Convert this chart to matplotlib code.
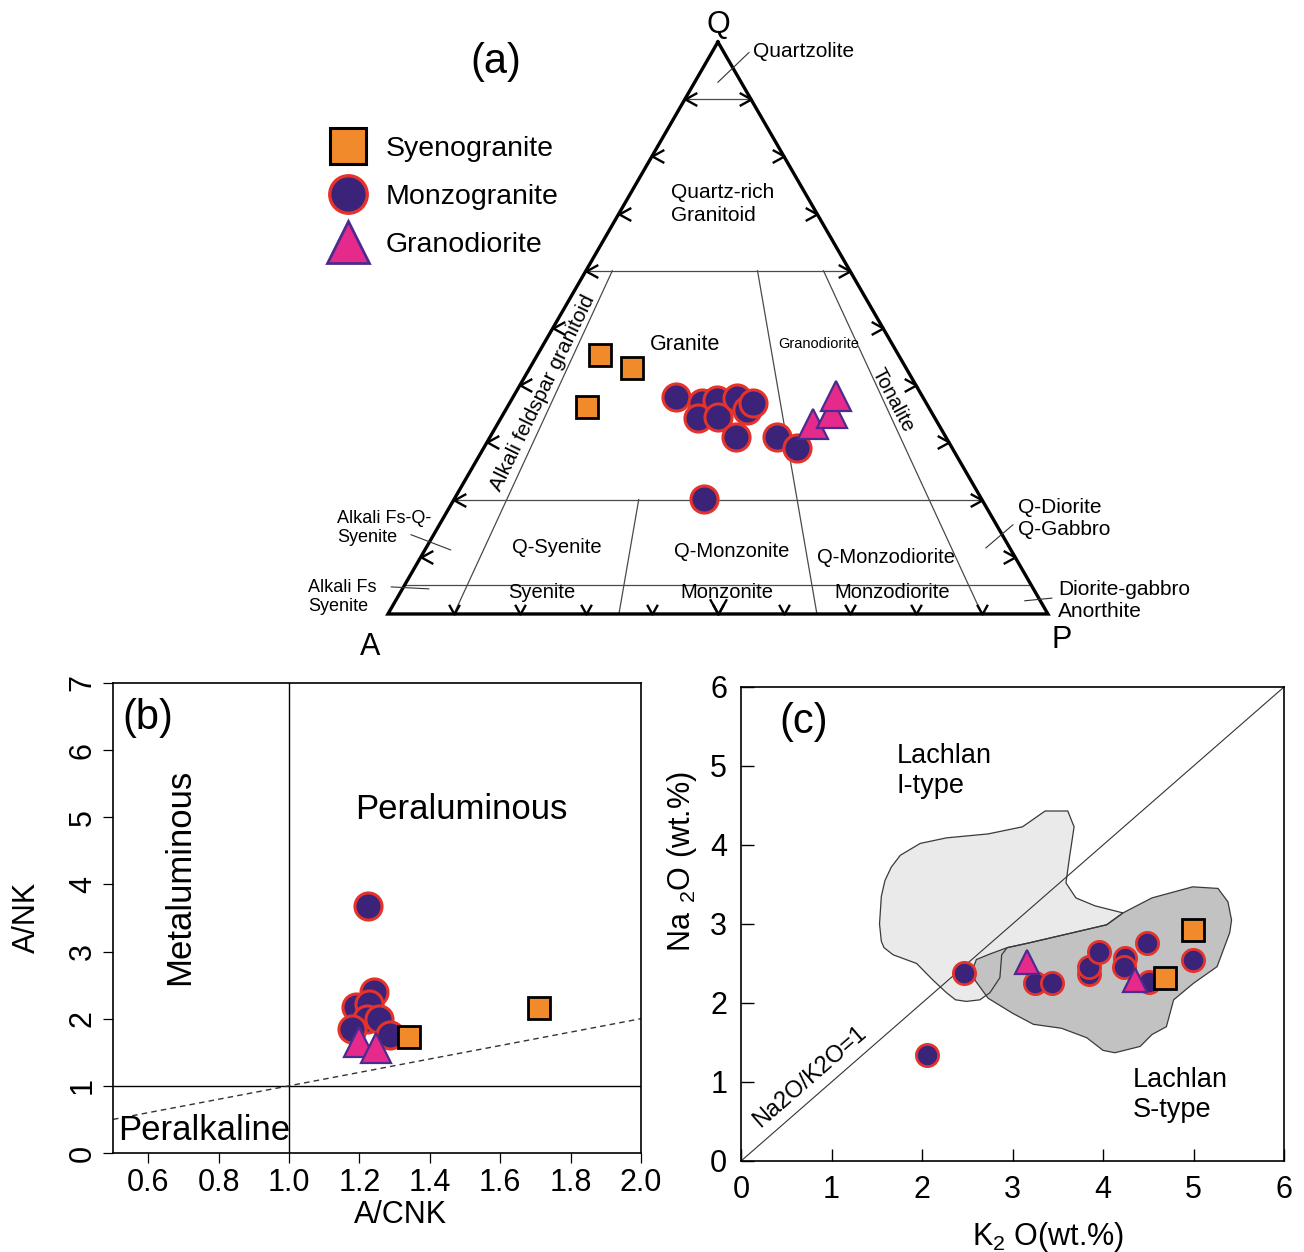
import numpy as np
import matplotlib.pyplot as plt
from matplotlib.path import Path
from matplotlib.lines import Line2D

plt.rcParams['font.family'] = ['Liberation Sans', 'DejaVu Sans']
plt.rcParams['mathtext.fontset'] = 'custom'
plt.rcParams['mathtext.rm'] = 'Liberation Sans'
plt.rcParams['mathtext.default'] = 'regular'

# (a) QAP modal compositions, %
syeno_q = [45.3, 43.0, 36.2]
syeno_a = [45.2, 41.5, 51.8]
syeno_p = [9.5, 15.5, 12.0]

monzo_q = [38.0, 36.9, 34.3, 37.4, 34.5, 37.8, 35.7, 36.9, 31.0, 31.0, 29.0, 20.1]
monzo_a = [37.4, 34.0, 35.9, 31.4, 32.8, 28.2, 27.8, 26.2, 31.8, 25.6, 23.5, 42.0]
monzo_p = [24.6, 29.1, 29.8, 31.2, 32.7, 34.0, 36.5, 36.9, 37.2, 43.4, 47.5, 37.9]

grano_q = [33.2, 35.2, 38.1]
grano_a = [19.0, 15.1, 13.1]
grano_p = [47.8, 49.7, 48.8]

# (b) A/CNK vs A/NK
syeno_acnk = [1.34, 1.71]
syeno_ank = [1.72, 2.16]
monzo_acnk = [1.224, 1.240, 1.190, 1.227, 1.221, 1.256, 1.178, 1.286]
monzo_ank = [3.68, 2.40, 2.18, 2.22, 2.00, 2.00, 1.85, 1.76]
grano_acnk = [1.198, 1.246]
grano_ank = [1.66, 1.56]

# (c) K2O vs Na2O, wt.%
syeno_k2o = [4.99, 4.69]
syeno_na2o = [2.93, 2.32]
monzo_k2o = [2.46, 2.05, 3.25, 3.44, 3.84, 3.84, 3.95, 4.24, 4.23, 4.49, 4.51, 4.99]
monzo_na2o = [2.38, 1.34, 2.25, 2.25, 2.37, 2.45, 2.64, 2.57, 2.45, 2.76, 2.26, 2.54]
grano_k2o = [3.16, 4.35]
grano_na2o = [2.52, 2.29]

# Lachlan fold belt granite fields
itype_k2o = [1.55, 1.53, 1.55, 1.59, 1.66, 1.76, 1.98, 2.27, 2.73, 3.11, 3.36, 3.61,
             3.68, 3.63, 3.59, 3.70, 3.91, 4.22, 4.04, 3.63, 3.18, 2.94, 2.88, 2.86,
             2.75, 2.64, 2.49, 2.37, 2.27, 2.12, 1.94, 1.68, 1.58]
itype_na2o = [2.78, 3.00, 3.35, 3.55, 3.72, 3.87, 4.02, 4.09, 4.14, 4.23, 4.43, 4.43,
              4.23, 3.85, 3.52, 3.33, 3.23, 3.14, 2.99, 2.88, 2.76, 2.70, 2.61, 2.32,
              2.13, 2.04, 2.02, 2.04, 2.13, 2.29, 2.50, 2.61, 2.70]
stype_k2o = [2.55, 2.60, 2.75, 2.94, 3.18, 3.63, 4.04, 4.22, 4.54, 4.99, 5.27, 5.38,
             5.42, 5.40, 5.26, 5.00, 4.78, 4.70, 4.54, 4.41, 4.13, 4.00, 3.82, 3.54,
             3.23, 3.00, 2.73, 2.59]
stype_na2o = [2.40, 2.55, 2.62, 2.70, 2.76, 2.88, 2.99, 3.14, 3.33, 3.47, 3.45, 3.28,
              3.05, 2.89, 2.46, 2.25, 2.04, 1.70, 1.60, 1.45, 1.37, 1.40, 1.56, 1.68,
              1.73, 1.87, 2.06, 2.28]

labels = ['Syenogranite', 'Monzogranite', 'Granodiorite']
orange = '#F08A2A'
indigo = '#3A2378'
red = '#E5322B'
pink = '#E62A8C'
violet = '#4B2C8E'

sq_style = dict(marker='s', mfc=orange, mec='black', ls='none')
ci_style = dict(marker='o', mfc=indigo, mec=red, ls='none')
tr_style = dict(marker='^', mfc=pink, mec=violet, ls='none')


def tern(q, a, p):
    q, a, p = np.asarray(q, float), np.asarray(a, float), np.asarray(p, float)
    s = q + a + p
    return (p + q / 2) / s, q / s * np.sqrt(3) / 2


fig = plt.figure(figsize=(13.04, 12.52), dpi=100)

# ---------------- (a) QAPF diagram ----------------
ax = fig.add_axes([0.2975, 0.5096, 0.5061, 0.4569])
ax.set_xlim(0, 1)
ax.set_ylim(0, np.sqrt(3) / 2)
ax.axis('off')

field = dict(color='#4a4a4a', lw=0.9, clip_on=False, zorder=1)
# horizontal Q levels
for qv in [90, 60, 20, 5]:
    x, y = tern([qv, qv], [100 - qv, 0], [0, 100 - qv])
    ax.plot(x, y, **field)
# P/(A+P) ratio lines
for r, qtop in [(0.10, 60), (0.35, 20), (0.65, 60), (0.90, 60)]:
    x, y = tern([qtop, 0], [(100 - qtop) * (1 - r), 100 * (1 - r)],
                [(100 - qtop) * r, 100 * r])
    ax.plot(x, y, **field)

x, y = tern([100, 0, 0, 100], [0, 100, 0, 0], [0, 0, 100, 0])
ax.plot(x, y, color='black', lw=2.4, solid_joinstyle='miter', clip_on=False, zorder=2)

# arrow ticks along the edges
codes = [Path.MOVETO, Path.LINETO, Path.LINETO]
chev_l = Path([(1, 0.55), (0, 0), (1, -0.55)], codes)
chev_r = Path([(-1, 0.55), (0, 0), (-1, -0.55)], codes)
chev_d = Path([(-0.55, 1), (0, 0), (0.55, 1)], codes)
steps = np.arange(10, 100, 10)
chev = dict(ls='none', mfc='none', mec='black', mew=1.7, clip_on=False, zorder=3)
x, y = tern(steps, 100 - steps, 0 * steps)
ax.plot(x, y, marker=chev_l, ms=17, **chev)
x, y = tern(steps, 0 * steps, 100 - steps)
ax.plot(x, y, marker=chev_r, ms=17, **chev)
x, y = tern(0 * steps, 100 - steps, steps)
ax.plot(x, y, marker=chev_d, ms=14, **chev)
x, y = tern([0], [50], [50])
ax.plot(x, y, marker=chev_d, ms=22, **chev)

# leader lines
lead = dict(color='#333333', lw=0.8, clip_on=False)
ax.plot([0.500, 0.547], [0.805, 0.850], **lead)
ax.plot([0.035, 0.095], [0.120, 0.097], **lead)
ax.plot([0.005, 0.062], [0.041, 0.038], **lead)
ax.plot([0.906, 0.947], [0.100, 0.135], **lead)
ax.plot([0.965, 1.006], [0.020, 0.024], **lead)

fs = 14.5
ax.text(0.5, 0.892, 'Q', fontsize=22, ha='center', va='center')
ax.text(-0.027, -0.050, 'A', fontsize=22, ha='center', va='center')
ax.text(1.021, -0.039, 'P', fontsize=22, ha='center', va='center')
ax.text(0.164, 0.836, '(a)', fontsize=30, ha='center', va='center')
ax.text(0.553, 0.852, 'Quartzolite', fontsize=15, ha='left', va='center')
ax.text(0.429, 0.621, 'Quartz-rich\nGranitoid', fontsize=15, ha='left', va='center',
        linespacing=1.3)
ax.text(0.397, 0.408, 'Granite', fontsize=15.5, ha='left', va='center')
ax.text(0.652, 0.408, 'Granodiorite', fontsize=10.5, ha='center', va='center')
ax.text(0.765, 0.324, 'Tonalite', fontsize=fs, ha='center', va='center', rotation=-62)
ax.text(0.234, 0.334, 'Alkali feldspar granitoid', fontsize=15, ha='center',
        va='center', rotation=64)
ax.text(-0.077, 0.130, 'Alkali Fs-Q-\nSyenite', fontsize=13, ha='left', va='center',
        linespacing=1.2)
ax.text(-0.121, 0.026, 'Alkali Fs\nSyenite', fontsize=13, ha='left', va='center',
        linespacing=1.2)
ax.text(0.256, 0.100, 'Q-Syenite', fontsize=fs, ha='center', va='center')
ax.text(0.521, 0.095, 'Q-Monzonite', fontsize=fs, ha='center', va='center')
ax.text(0.755, 0.086, 'Q-Monzodiorite', fontsize=fs, ha='center', va='center')
ax.text(0.955, 0.144, 'Q-Diorite\nQ-Gabbro', fontsize=15, ha='left', va='center',
        linespacing=1.2)
ax.text(0.233, 0.032, 'Syenite', fontsize=fs, ha='center', va='center')
ax.text(0.514, 0.032, 'Monzonite', fontsize=fs, ha='center', va='center')
ax.text(0.764, 0.032, 'Monzodiorite', fontsize=fs, ha='center', va='center')
ax.text(1.015, 0.021, 'Diorite-gabbro\nAnorthite', fontsize=15, ha='left', va='center',
        linespacing=1.2)

x, y = tern(syeno_q, syeno_a, syeno_p)
ax.plot(x, y, ms=16.5, mew=2.0, clip_on=False, zorder=5, **sq_style)
x, y = tern(monzo_q, monzo_a, monzo_p)
ax.plot(x, y, ms=19.5, mew=2.2, clip_on=False, zorder=5, **ci_style)
x, y = tern(grano_q, grano_a, grano_p)
ax.plot(x, y, ms=21, mew=1.6, clip_on=False, zorder=5, **tr_style)

handles = [Line2D([], [], ms=26, mew=2.2, **sq_style),
           Line2D([], [], ms=27, mew=2.4, **ci_style),
           Line2D([], [], ms=30, mew=2.0, **tr_style)]
fig.legend(handles, labels, loc='upper left', bbox_to_anchor=(0.254, 0.8915),
           frameon=False, fontsize=20.5, handlelength=1.2, handletextpad=0.7,
           labelspacing=0.78, borderpad=0, borderaxespad=0)

# ---------------- (b) A/CNK vs A/NK ----------------
axb = fig.add_axes([0.0867, 0.0791, 0.4049, 0.3754])
axb.set_xlim(0.5, 2.0)
axb.set_ylim(0, 7)
axb.axvline(1.0, color='black', lw=1.0, zorder=1)
axb.axhline(1.0, color='black', lw=1.0, zorder=1)
axb.plot([0.5, 2.0], [0.5, 2.0], color='#333333', lw=1.0, ls=(0, (4, 3)), zorder=1)
axb.set_xticks(np.arange(0.6, 2.01, 0.2))
axb.set_xticklabels(['0.6', '0.8', '1.0', '1.2', '1.4', '1.6', '1.8', '2.0'])
axb.set_yticks(range(8))
axb.tick_params(direction='out', length=7, width=0.9, labelsize=22, pad=4)
for lab in axb.get_yticklabels():
    lab.set_rotation(90)
    lab.set_va('center')
for s in axb.spines.values():
    s.set_linewidth(1.2)
axb.set_xlabel('A/CNK', fontsize=22)
axb.set_ylabel('A/NK', fontsize=22)
axb.xaxis.set_label_coords(0.544, -0.100)
axb.yaxis.set_label_coords(-0.135, 0.502)

axb.text(0.599, 6.48, '(b)', fontsize=30, ha='center', va='center')
axb.text(0.69, 4.11, 'Metaluminous', fontsize=25, ha='center', va='center', rotation=90)
axb.text(1.49, 5.11, 'Peraluminous', fontsize=25, ha='center', va='center')
axb.text(0.76, 0.34, 'Peralkaline', fontsize=25, ha='center', va='center')

axb.plot(monzo_acnk, monzo_ank, ms=19.5, mew=2.2, zorder=5, **ci_style)
axb.plot(grano_acnk, grano_ank, ms=21, mew=1.6, zorder=5, **tr_style)
axb.plot(syeno_acnk, syeno_ank, ms=16.5, mew=2.0, zorder=5, **sq_style)

# ---------------- (c) K2O vs Na2O ----------------
axc = fig.add_axes([0.5683, 0.0727, 0.4164, 0.3786])
axc.set_xlim(0, 6)
axc.set_ylim(0, 6)
axc.fill(itype_k2o, itype_na2o, facecolor='#EAEAEA', edgecolor='none', zorder=1)
axc.fill(stype_k2o, stype_na2o, facecolor='#C2C2C2', edgecolor='none', zorder=1.1)
axc.fill(itype_k2o, itype_na2o, facecolor='none', edgecolor='#3a3a3a', lw=0.9, zorder=1.2)
axc.fill(stype_k2o, stype_na2o, facecolor='none', edgecolor='#3a3a3a', lw=0.9, zorder=1.2)
axc.plot([0, 6], [0, 6], color='#333333', lw=0.8, zorder=1.3)
axc.set_xticks(range(7))
axc.set_yticks(range(7))
axc.tick_params(direction='in', length=9, width=1.0, labelsize=22, pad=10)
for s in axc.spines.values():
    s.set_linewidth(1.2)
axc.set_xlabel(r'K$_2$ O(wt.%)', fontsize=22)
axc.set_ylabel(r'Na$\ _2$O (wt.%)', fontsize=22)
axc.xaxis.set_label_coords(0.565, -0.124)
axc.yaxis.set_label_coords(-0.078, 0.631)

axc.text(0.69, 5.56, '(c)', fontsize=30, ha='center', va='center')
axc.text(1.72, 4.94, 'Lachlan\nI-type', fontsize=19.5, ha='left', va='center',
         linespacing=1.2)
axc.text(4.33, 0.84, 'Lachlan\nS-type', fontsize=19.5, ha='left', va='center',
         linespacing=1.2)
axc.text(0.76, 1.06, 'Na2O/K2O=1', fontsize=17, ha='center', va='center', rotation=41)

axc.plot(monzo_k2o, monzo_na2o, ms=16, mew=2.0, zorder=5, **ci_style)
axc.plot(grano_k2o, grano_na2o, ms=17, mew=1.6, zorder=5, **tr_style)
axc.plot(syeno_k2o, syeno_na2o, ms=16, mew=2.0, zorder=5, **sq_style)

fig.savefig('out.png', dpi=100, facecolor='white')
